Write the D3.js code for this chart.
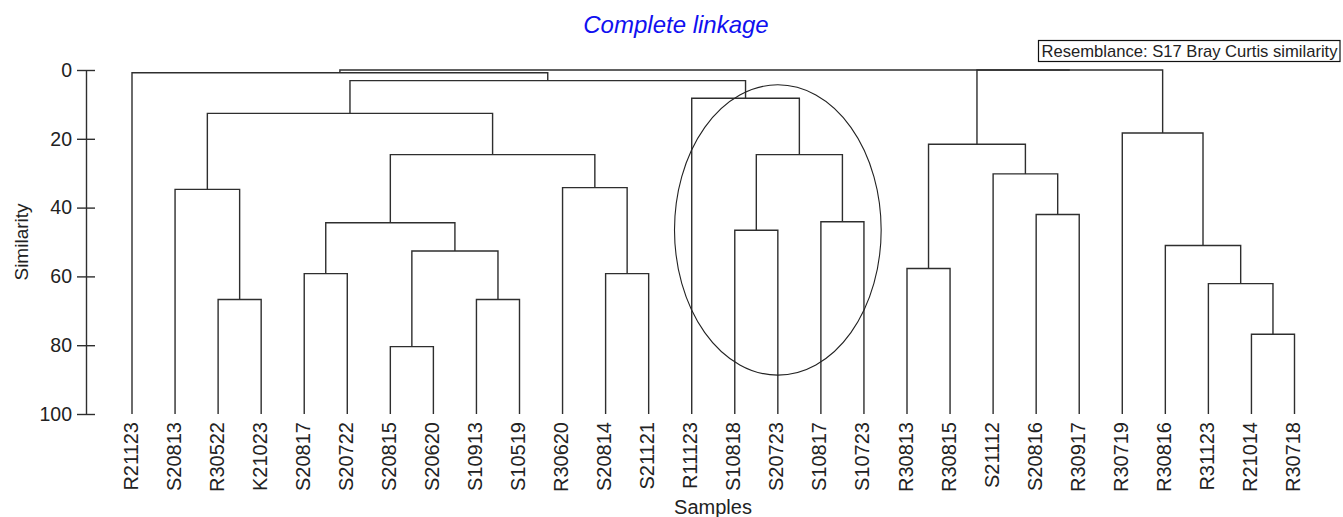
<!DOCTYPE html>
<html>
<head>
<meta charset="utf-8">
<script src="https://cdn.jsdelivr.net/npm/d3@7"></script>
<style>
  body { margin: 0; background: #fff; }
  text { font-family: "Liberation Sans", Arial, sans-serif; fill: #222; }
</style>
</head>
<body>
<div id="chart"></div>
<script>
// leaves in dendrogram order (left to right)
const leaves = [
  "R21123","S20813","R30522","K21023","S20817","S20722","S20815","S20620",
  "S10913","S10519","R30620","S20814","S21121","R11123","S10818","S20723",
  "S10817","S10723","R30813","R30815","S21112","S20816","R30917","R30719",
  "R30816","R31123","R21014","R30718"
];

// merges: [left, right, similarity]; merge i is referred to as "n"+i
const merges = [
  ["R30522","K21023",66.7],   // n0
  ["S20813","n0",34.7],       // n1
  ["S20817","S20722",59.2],   // n2
  ["S20815","S20620",80.4],   // n3
  ["S10913","S10519",66.7],   // n4
  ["n3","n4",52.6],           // n5
  ["n2","n5",44.4],           // n6
  ["S20814","S21121",59.2],   // n7
  ["R30620","n7",34.2],       // n8
  ["n6","n8",24.6],           // n9
  ["n1","n9",12.6],           // n10
  ["S10818","S20723",46.6],   // n11
  ["S10817","S10723",44.1],   // n12
  ["n11","n12",24.6],         // n13
  ["R11123","n13",8.2],       // n14
  ["n10","n14",3.1],          // n15
  ["R21123","n15",0.8],       // n16
  ["R30813","R30815",57.7],   // n17
  ["S20816","R30917",42.0],   // n18
  ["S21112","n18",30.2],      // n19
  ["n17","n19",21.6],         // n20
  ["R21014","R30718",76.8],   // n21
  ["R31123","n21",62.1],      // n22
  ["R30816","n22",51.0],      // n23
  ["R30719","n23",18.3],      // n24
  ["n20","n24",0],            // n25
  ["n16","n25",0]             // n26
];

const yTicks = [0, 20, 40, 60, 80, 100];

// circled group annotation: centre leaf, centre similarity, half-width in leaves, half-height in similarity
const ring = {leaf: "S20723", sim: 46.5, halfLeaves: 2.4, halfSim: 42.2};

const width = 1343, height = 517;
const svg = d3.select("#chart").append("svg")
  .attr("width", width).attr("height", height);

const x = d3.scalePoint().domain(leaves).range([132, 1294.5]);
const y = d3.scaleLinear().domain([0, 100]).range([70, 414]);

// node positions
const pos = {};
leaves.forEach(l => { pos[l] = {x: x(l), sim: 100}; });
merges.forEach((m, i) => {
  const a = pos[m[0]], b = pos[m[1]];
  pos["n" + i] = {x: (a.x + b.x) / 2, sim: m[2]};
});

const lineColor = "#2e2e2e";
const links = svg.append("g")
  .attr("fill", "none")
  .attr("stroke", lineColor)
  .attr("stroke-width", 1.4);

links.selectAll("path")
  .data(merges)
  .join("path")
  .attr("d", m => {
    const a = pos[m[0]], b = pos[m[1]];
    const yt = y(m[2]);
    return `M${a.x},${y(a.sim)}V${yt}H${b.x}V${y(b.sim)}`;
  });

// y axis
const yAxis = d3.axisLeft(y)
  .tickValues(yTicks)
  .tickSizeInner(9)
  .tickSizeOuter(0)
  .tickPadding(5);

const axisG = svg.append("g")
  .attr("transform", "translate(86,0)")
  .call(yAxis);
axisG.select(".domain").attr("stroke", lineColor).attr("stroke-width", 1.4);
axisG.selectAll(".tick line").attr("x1", 9).attr("stroke", lineColor).attr("stroke-width", 1.4);
axisG.selectAll(".tick text")
  .attr("font-size", 19.5)
  .attr("font-family", "Liberation Sans, Arial, sans-serif")
  .attr("fill", "#222");

// leaf labels
svg.append("g").selectAll("text")
  .data(leaves)
  .join("text")
  .attr("transform", d => `translate(${x(d)},422) rotate(-90)`)
  .attr("text-anchor", "end")
  .attr("dy", 5.5)
  .attr("font-size", 20)
  .text(d => d);

// ellipse around the S10818..S10723 group
svg.append("ellipse")
  .attr("cx", x(ring.leaf))
  .attr("cy", y(ring.sim))
  .attr("rx", x.step() * ring.halfLeaves)
  .attr("ry", y(ring.halfSim) - y(0))
  .attr("fill", "none")
  .attr("stroke", "#222")
  .attr("stroke-width", 1.1);

// axis titles
svg.append("text")
  .attr("transform", "translate(27.5,242) rotate(-90)")
  .attr("text-anchor", "middle")
  .attr("font-size", 19)
  .text("Similarity");

svg.append("text")
  .attr("x", 713).attr("y", 514)
  .attr("text-anchor", "middle")
  .attr("font-size", 20)
  .text("Samples");

// title
svg.append("text")
  .attr("x", 676).attr("y", 33)
  .attr("text-anchor", "middle")
  .attr("font-size", 24)
  .attr("font-style", "italic")
  .style("fill", "#1010f0")
  .text("Complete linkage");

// resemblance box
const legend = svg.append("g");
legend.append("rect")
  .attr("x", 1038.5).attr("y", 40.5)
  .attr("width", 301.5).attr("height", 21)
  .attr("fill", "#fff")
  .attr("stroke", "#111")
  .attr("stroke-width", 1.2);
legend.append("text")
  .attr("x", 1041.5).attr("y", 57.3)
  .attr("font-size", 16.6)
  .text("Resemblance: S17 Bray Curtis similarity");
</script>
</body>
</html>
